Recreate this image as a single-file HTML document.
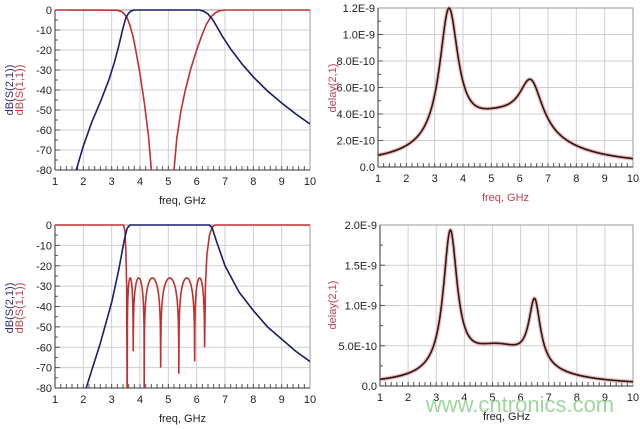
<!DOCTYPE html>
<html><head><meta charset="utf-8"><style>
html,body{margin:0;padding:0;background:#fff;width:640px;height:429px;overflow:hidden}
svg text{font-family:"Liberation Sans",sans-serif;font-size:11px}
</style></head><body>
<svg id="s" width="640" height="429" xmlns="http://www.w3.org/2000/svg"></svg>
<script>
var S=document.getElementById('s'),out='';
function lin(pts,f){if(f<=pts[0][0])return pts[0][1];for(var i=1;i<pts.length;i++){if(f<=pts[i][0]){var a=pts[i-1],b=pts[i];return a[1]+(b[1]-a[1])*(f-a[0])/(b[0]-a[0]);}}return pts[pts.length-1][1];}
function panel(o){
 var x0=o.x0,x1=o.x1,y0=o.y0,y1=o.y1,g='';
 var X=function(f){return x0+(f-1)/9*(x1-x0)},Y=function(v){return y1-(v-o.vmin)/(o.vmax-o.vmin)*(y1-y0)};
 for(var f=1;f<=10;f++){g+='<line x1="'+X(f)+'" y1="'+y0+'" x2="'+X(f)+'" y2="'+y1+'" stroke="#cfcfcf"/>';
  g+='<text x="'+X(f)+'" y="'+(y1+15)+'" text-anchor="middle" fill="#222">'+f+'</text>';}
 for(var f=1;f<10;f+=0.2){g+='<line x1="'+X(f)+'" y1="'+y1+'" x2="'+X(f)+'" y2="'+(y1-4)+'" stroke="#555"/>';}
 for(var i=0;i<o.yt.length;i++){var v=o.yt[i][0];g+='<line x1="'+x0+'" y1="'+Y(v)+'" x2="'+x1+'" y2="'+Y(v)+'" stroke="#cfcfcf"/>';
  g+='<line x1="'+x0+'" y1="'+Y(v)+'" x2="'+(x0+5)+'" y2="'+Y(v)+'" stroke="#555"/>';
  g+='<text x="'+(x0-3)+'" y="'+(Y(v)+4)+'" text-anchor="end" fill="#222">'+o.yt[i][1]+'</text>';
  if(i<o.yt.length-1){var m=(v+o.yt[i+1][0])/2;g+='<line x1="'+x0+'" y1="'+Y(m)+'" x2="'+(x0+3)+'" y2="'+Y(m)+'" stroke="#555"/>';}}
 g+='<rect x="'+x0+'" y="'+y0+'" width="'+(x1-x0)+'" height="'+(y1-y0)+'" fill="none" stroke="#999"/>';
 g+='<line x1="'+x0+'" y1="'+y1+'" x2="'+x1+'" y2="'+y1+'" stroke="#333"/><line x1="'+x0+'" y1="'+y0+'" x2="'+x0+'" y2="'+y1+'" stroke="#333"/>';
 g+='<text x="'+((x0+x1)/2)+'" y="'+(y1+34)+'" text-anchor="middle" fill="'+o.tc+'">freq, GHz</text>';
 g+='<defs><clipPath id="c'+o.id+'"><rect x="'+x0+'" y="'+(y0-2)+'" width="'+(x1-x0)+'" height="'+(y1-y0+2)+'"/></clipPath></defs><g clip-path="url(#c'+o.id+')">';
 o.series.forEach(function(s){var d='';for(var f=1;f<=10.0001;f+=0.005){var v=Math.max(o.vmin-1,Math.min(o.vmax,s.fn(f)));d+=(d?'L':'M')+X(f).toFixed(1)+' '+Y(v).toFixed(1);}
  if(s.glow)g+='<path d="'+d+'" fill="none" stroke="#f0a0a0" stroke-width="4" opacity="0.7"/>';
  g+='<path d="'+d+'" fill="none" stroke="'+s.c+'" stroke-width="1.6"/>';});
 g+='</g>';
 g+=o.ylab;
 out+=g;}
var dbT=[[0,'0'],[-10,'-10'],[-20,'-20'],[-30,'-30'],[-40,'-40'],[-50,'-50'],[-60,'-60'],[-70,'-70'],[-80,'-80']];
var B='#1c1c6a',R='#c03030';
function L(f,c,w,h){return h/(1+Math.pow((f-c)/w,2));}
var ylab1=function(cy){return '<text transform="translate(13,'+cy+') rotate(-90)" text-anchor="middle" fill="#2a2a80">dB(S(2,1))</text><text transform="translate(23,'+cy+') rotate(-90)" text-anchor="middle" fill="#c04040">dB(S(1,1))</text>';};
panel({id:1,x0:55,x1:310,y0:10,y1:170,vmin:-80,vmax:0,yt:dbT,tc:'#222',ylab:ylab1(90),series:[
 {c:R,fn:function(f){return lin([[1,0],[3.2,-0.1],[3.35,-0.8],[3.45,-2],[3.55,-4],[3.65,-8],[3.75,-13],[3.85,-20],[4.0,-32],[4.15,-46],[4.3,-63],[4.4,-80],[4.5,-120],[5.1,-120],[5.2,-80],[5.3,-64],[5.45,-50],[5.6,-40],[5.8,-29],[6.0,-20],[6.2,-12],[6.35,-7],[6.5,-3.5],[6.65,-1.5],[6.8,-0.4],[7,0],[10,0]],f)}},
 {c:B,fn:function(f){return lin([[1,-140],[1.75,-80],[2.0,-68],[2.3,-56],[2.6,-46],[2.9,-35],[3.1,-26],[3.25,-18],[3.4,-9],[3.5,-4],[3.6,-1.5],[3.7,-0.4],[3.8,0],[6.1,0],[6.25,-0.6],[6.4,-2],[6.55,-4.5],[6.7,-8],[6.9,-13],[7.2,-19.5],[7.6,-27],[8,-33.5],[8.5,-40.5],[9,-46.5],[9.5,-52],[10,-57]],f)}}]});
var nulls=[[3.55,-100],[3.76,-62],[4.15,-100],[4.73,-70],[5.37,-73],[5.93,-67],[6.28,-60]];
function s11b(f){if(f<3.42)return 0;if(f<3.55){return lin([[3.42,0],[3.47,-3],[3.5,-12],[3.53,-30],[3.55,-100]],f);}
 if(f>6.28){return lin([[6.28,-60],[6.31,-30],[6.36,-15],[6.45,-5],[6.55,-1],[6.65,0]],f);}
 for(var i=0;i<nulls.length-1;i++){var a=nulls[i][0],b=nulls[i+1][0];if(f>=a&&f<=b){var t=(f-a)/(b-a);var s=Math.abs(Math.sin(Math.PI*t));var v=-26+20*Math.log10(Math.max(s,1e-6));var dep=t<0.5?nulls[i][1]:nulls[i+1][1];return Math.max(v,dep);}}return 0;}
panel({id:2,x0:55,x1:310,y0:225,y1:388,vmin:-80,vmax:0,yt:dbT,tc:'#222',ylab:ylab1(308),series:[
 {c:R,glow:false,fn:s11b},
 {c:B,fn:function(f){return lin([[1,-150],[2.1,-80],[2.6,-58],[3.0,-38],[3.25,-22],[3.45,-7],[3.55,-1.5],[3.65,0],[6.45,0],[6.55,-1.5],[6.7,-8],[7,-20],[7.5,-33],[8,-42],[8.5,-50],[9,-56],[9.5,-62],[10,-67]],f)}}]});
var ylab2=function(cy){return '<text transform="translate(336,'+cy+') rotate(-90)" text-anchor="middle" fill="#c04050">delay(2,1)</text>';};
panel({id:3,x0:378,x1:633,y0:8,y1:167,vmin:0,vmax:1.2,tc:'#c04050',yt:[[0,'0.0'],[0.2,'2.0E-10'],[0.4,'4.0E-10'],[0.6,'6.0E-10'],[0.8,'8.0E-10'],[1.0,'1.0E-9'],[1.2,'1.2E-9']],ylab:ylab2(88),series:[
 {c:'#2a1a1a',glow:true,fn:function(f){return L(f,3.5,0.4,1.0)+L(f,6.4,0.5,0.38)+L(f,5.3,2.0,0.34)}}]});
panel({id:4,x0:380,x1:633,y0:225,y1:386,vmin:0,vmax:2.0,tc:'#222',yt:[[0,'0.0'],[0.5,'5.0E-10'],[1.0,'1.0E-9'],[1.5,'1.5E-9'],[2.0,'2.0E-9']],ylab:ylab2(305),series:[
 {c:'#2a1a1a',glow:true,fn:function(f){return L(f,3.5,0.3,1.72)+L(f,6.5,0.25,0.8)+L(f,5.2,1.6,0.45)}}]});
out+='<text x="520" y="412" text-anchor="middle" fill="#9fd49f" style="font-size:22px">www.cntronics.com</text>';
S.innerHTML=out;
</script>
</body></html>
